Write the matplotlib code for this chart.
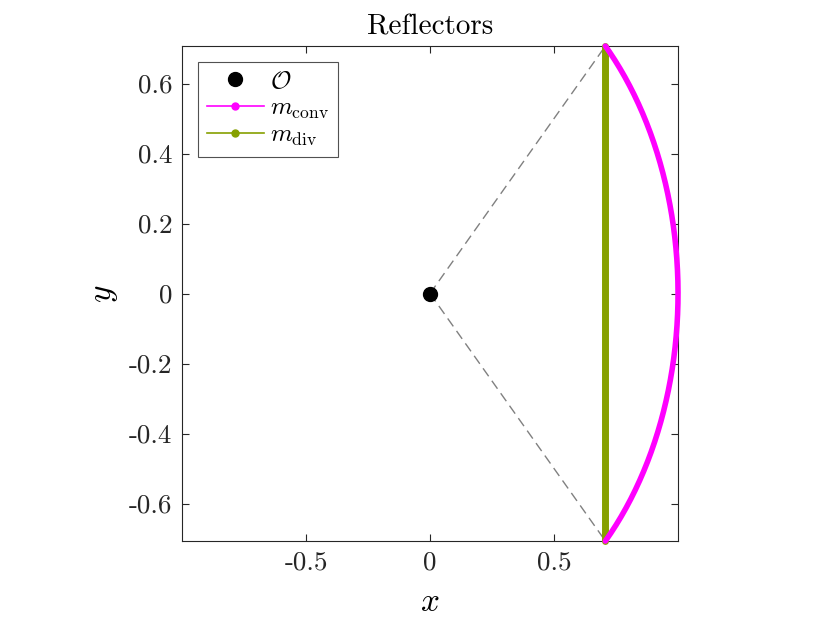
import numpy as np
import matplotlib
matplotlib.use("Agg")
import matplotlib.pyplot as plt
from matplotlib.lines import Line2D

plt.rcParams['mathtext.fontset'] = 'cm'
plt.rcParams['font.family'] = ['cmr10', 'DejaVu Serif']
plt.rcParams['axes.unicode_minus'] = False

# Data
origin = (0.0, 0.0)
radius = 1.0
half_angle_deg = 45.0
xticks = [-0.5, 0, 0.5]
xtick_labels = ['-0.5', '0', '0.5']
yticks = [-0.6, -0.4, -0.2, 0, 0.2, 0.4, 0.6]
ytick_labels = ['-0.6', '-0.4', '-0.2', '0', '0.2', '0.4', '0.6']

magenta = '#ff00ff'
olive = '#86a000'

theta = np.deg2rad(np.linspace(-half_angle_deg, half_angle_deg, 200))
arc_x = radius * np.cos(theta)
arc_y = radius * np.sin(theta)
end_x = radius * np.cos(np.deg2rad(half_angle_deg))
end_y = radius * np.sin(np.deg2rad(half_angle_deg))

fig = plt.figure(figsize=(8.3, 6.23), dpi=100)
ax = fig.add_axes([0.2193, 0.1316, 0.5976, 0.7945])

ax.plot([origin[0], end_x], [origin[1], end_y], '--', color='#808080', lw=1.0, dashes=(7, 4))
ax.plot([origin[0], end_x], [origin[1], -end_y], '--', color='#808080', lw=1.0, dashes=(7, 4))
ax.plot([end_x, end_x], [-end_y, end_y], color=olive, lw=5.0, solid_capstyle='round', zorder=3, clip_on=False)
ax.plot(arc_x, arc_y, color=magenta, lw=4.0, solid_capstyle='round', zorder=3, clip_on=False)
ax.plot([origin[0]], [origin[1]], 'o', color='black', ms=10, zorder=4)

ax.set_xlim(-1.0, 1.0)
ax.set_ylim(-end_y, end_y)
ax.set_xticks(xticks)
ax.set_xticklabels(xtick_labels)
ax.set_yticks(yticks)
ax.set_yticklabels(ytick_labels)
ax.tick_params(direction='in', top=True, right=True, labelsize=19.5, length=5, width=0.8, colors='#262626', pad=7)
for lab in ax.get_xticklabels() + ax.get_yticklabels():
    lab.set_color('#262626')
for s in ax.spines.values():
    s.set_color('#262626')
    s.set_linewidth(0.8)

ax.set_xlabel('$x$', fontsize=24, labelpad=10)
ax.set_ylabel('$y$', fontsize=24, labelpad=6)
ax.set_title('Reflectors', fontsize=21, pad=8)

handles = [
    Line2D([], [], marker='o', color='black', ls='none', ms=10),
    Line2D([], [], marker='o', color=magenta, lw=1.2, ms=5),
    Line2D([], [], marker='o', color=olive, lw=1.2, ms=5),
]
labels = [r'$\mathcal{O}$', r'$m_{\mathrm{conv}}$', r'$m_{\mathrm{div}}$']
leg = ax.legend(handles, labels, loc='upper left', bbox_to_anchor=(0.032, 0.968),
                fontsize=18, frameon=True, fancybox=False, edgecolor='#262626',
                handlelength=2.3, handletextpad=0.25, borderpad=0.35, labelspacing=0.15,
                borderaxespad=0)
leg.get_frame().set_linewidth(0.8)

fig.savefig('out.png', dpi=100, facecolor='white')
